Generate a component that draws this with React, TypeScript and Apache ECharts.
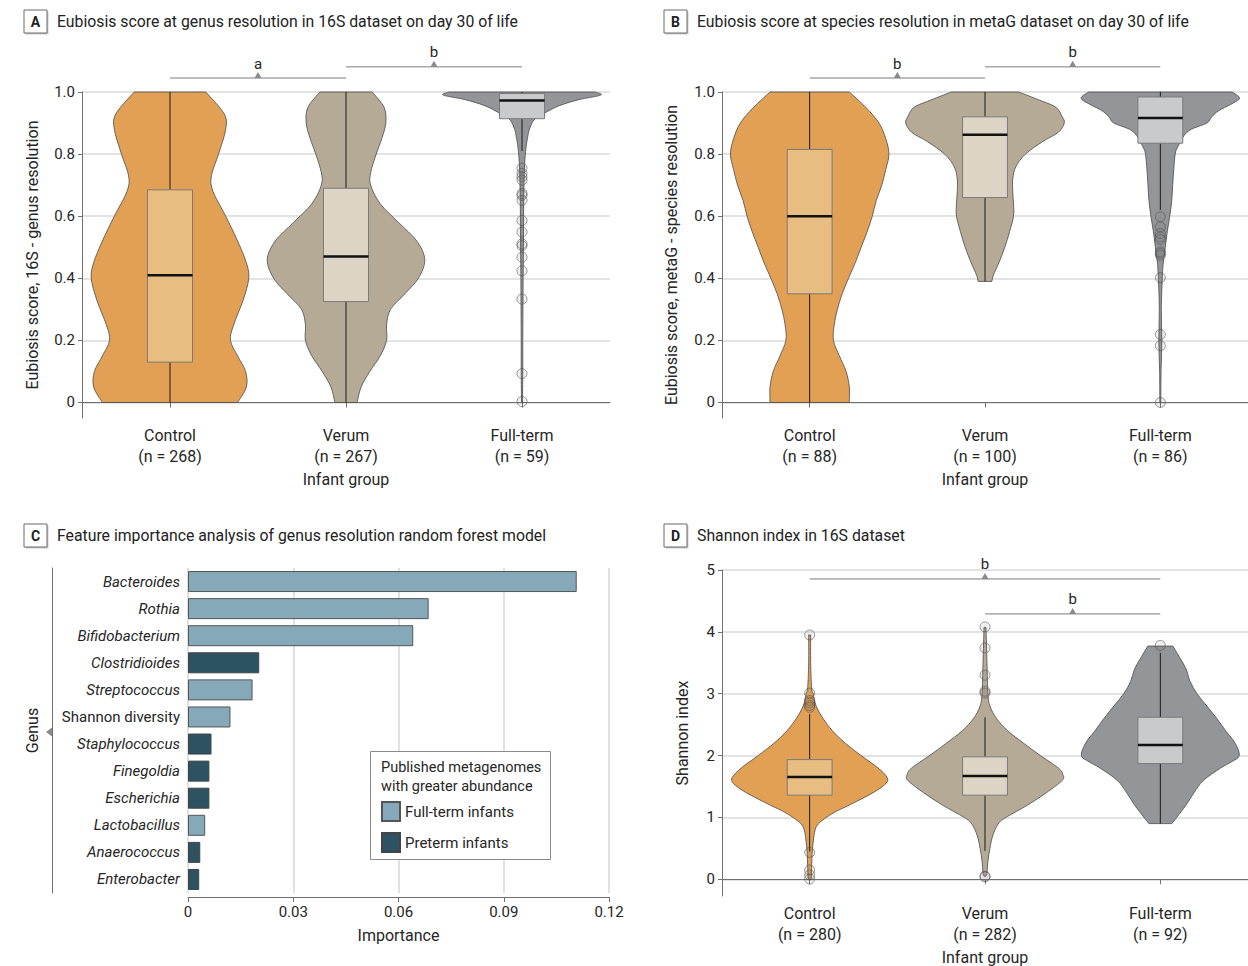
import React, { useEffect, useRef } from "react";
import * as echarts from "echarts";

const FONT = "Roboto, 'Noto Sans', sans-serif";
const TEXT = "#262626";
const AXIS = "#707070";
const GRID = "#dadada";

// ---------- shared categories ----------
const groups = ["Control", "Verum", "Full-term"];
const nA = [268, 267, 59];
const nB = [88, 100, 86];
const nD = [280, 282, 92];
const scoreTicks = [0, 0.2, 0.4, 0.6, 0.8, 1.0];
const shannonTicks = [0, 1, 2, 3, 4, 5];

// ---------- Panel A: violin density profiles [score, relative density] ----------
const violinA_control = [[0, 0.85], [0.05, 0.96], [0.1, 0.95], [0.15, 0.85], [0.2, 0.76], [0.25, 0.8], [0.33, 0.92], [0.4, 0.99], [0.45, 0.96], [0.52, 0.85], [0.6, 0.7], [0.68, 0.54], [0.73, 0.52], [0.8, 0.61], [0.88, 0.7], [0.93, 0.68], [1.0, 0.45]];
const violinA_verum = [[0, 0.14], [0.05, 0.19], [0.1, 0.3], [0.15, 0.43], [0.2, 0.51], [0.25, 0.51], [0.3, 0.56], [0.35, 0.74], [0.4, 0.91], [0.46, 0.99], [0.52, 0.89], [0.58, 0.66], [0.64, 0.43], [0.7, 0.31], [0.74, 0.31], [0.8, 0.38], [0.85, 0.45], [0.9, 0.5], [0.95, 0.48], [1.0, 0.33]];
const violinA_fullterm = [[0, 0.006], [0.1, 0.01], [0.2, 0.01], [0.3, 0.012], [0.4, 0.014], [0.5, 0.018], [0.6, 0.02], [0.7, 0.025], [0.77, 0.034], [0.82, 0.05], [0.86, 0.075], [0.88, 0.094], [0.91, 0.15], [0.93, 0.27], [0.955, 0.46], [0.975, 0.71], [0.99, 0.99], [1.0, 0.92]];
// box stats: [lower whisker, Q1, median, Q3, upper whisker]
const boxA = [[0, 0.13, 0.41, 0.685, 1.0], [0, 0.325, 0.47, 0.69, 1.0], [0.81, 0.914, 0.973, 0.995, 1.0]];
const outliersA_fullterm = [0.755, 0.738, 0.727, 0.716, 0.673, 0.667, 0.651, 0.586, 0.549, 0.511, 0.505, 0.468, 0.424, 0.333, 0.093, 0.003];
const bracketsA_from = [0, 1];
const bracketsA_to = [1, 2];
const bracketsA_y = [1.045, 1.081];
const bracketsA_label = ["a", "b"];

// ---------- Panel B ----------
const violinB_control = [[0, 0.5], [0.05, 0.5], [0.1, 0.46], [0.15, 0.375], [0.2, 0.3], [0.25, 0.31], [0.3, 0.35], [0.35, 0.41], [0.4, 0.49], [0.45, 0.575], [0.5, 0.65], [0.55, 0.725], [0.6, 0.79], [0.65, 0.84], [0.7, 0.91], [0.75, 0.96], [0.8, 1.0], [0.85, 0.96], [0.9, 0.875], [0.95, 0.71], [1.0, 0.5]];
const violinB_verum = [[0.39, 0.0875], [0.41, 0.106], [0.45, 0.175], [0.5, 0.25], [0.55, 0.31], [0.6, 0.36], [0.64, 0.36], [0.68, 0.35], [0.72, 0.35], [0.76, 0.39], [0.8, 0.51], [0.84, 0.725], [0.87, 0.925], [0.9, 1.0], [0.92, 0.975], [0.95, 0.9], [0.97, 0.725], [1.0, 0.425]];
const violinB_fullterm = [[0, 0.006], [0.1, 0.009], [0.2, 0.019], [0.3, 0.0125], [0.4, 0.025], [0.45, 0.0375], [0.5, 0.0625], [0.55, 0.0875], [0.6, 0.119], [0.65, 0.144], [0.7, 0.156], [0.75, 0.169], [0.8, 0.1875], [0.82, 0.2125], [0.84, 0.256], [0.86, 0.3], [0.88, 0.39], [0.9, 0.5875], [0.92, 0.65], [0.94, 0.7375], [0.96, 0.8875], [0.98, 1.0], [1.0, 0.906]];
const boxB = [[0, 0.35, 0.6, 0.815, 1.0], [0.39, 0.66, 0.862, 0.92, 1.0], [0.62, 0.835, 0.916, 0.984, 1.0]];
const outliersB_fullterm = [0.598, 0.566, 0.544, 0.533, 0.525, 0.485, 0.48, 0.474, 0.402, 0.219, 0.183, 0.0];
const bracketsB_from = [0, 1];
const bracketsB_to = [1, 2];
const bracketsB_y = [1.045, 1.081];
const bracketsB_label = ["b", "b"];

// ---------- Panel C: feature importance ----------
const genera = ["Bacteroides", "Rothia", "Bifidobacterium", "Clostridioides", "Streptococcus", "Shannon diversity", "Staphylococcus", "Finegoldia", "Escherichia", "Lactobacillus", "Anaerococcus", "Enterobacter"];
const importance = [0.1108, 0.0686, 0.0642, 0.0203, 0.0184, 0.0121, 0.0067, 0.0061, 0.0061, 0.0049, 0.0035, 0.0032];
const enrichedIn = ["Full-term", "Full-term", "Full-term", "Preterm", "Full-term", "Full-term", "Preterm", "Preterm", "Preterm", "Full-term", "Preterm", "Preterm"];
const importanceTicks = { min: 0, max: 0.12, interval: 0.03 };

// ---------- Panel D: Shannon index ----------
const violinD_control = [[0, 0.02], [0.2, 0.025], [0.4, 0.03], [0.6, 0.044], [0.8, 0.069], [0.9, 0.1125], [1.0, 0.21], [1.1, 0.3375], [1.2, 0.5], [1.4, 0.8], [1.55, 0.9625], [1.65, 0.975], [1.8, 0.8625], [2.0, 0.65], [2.2, 0.45], [2.4, 0.2875], [2.6, 0.169], [2.8, 0.0825], [3.0, 0.044], [3.1, 0.025], [3.5, 0.0125], [3.95, 0.0125]];
const violinD_verum = [[0.05, 0.0125], [0.1, 0.025], [0.3, 0.0375], [0.5, 0.0625], [0.7, 0.096], [0.9, 0.169], [1.0, 0.2625], [1.2, 0.5375], [1.4, 0.775], [1.6, 0.975], [1.7, 0.98], [1.8, 0.925], [2.0, 0.7], [2.2, 0.4875], [2.4, 0.2875], [2.6, 0.145], [2.8, 0.0625], [3.0, 0.0375], [3.5, 0.025], [4.07, 0.0125]];
const violinD_fullterm = [[0.9, 0.145], [1.0, 0.206], [1.2, 0.325], [1.4, 0.425], [1.6, 0.545], [1.8, 0.7625], [1.9, 0.9], [2.0, 0.996], [2.2, 0.944], [2.4, 0.825], [2.6, 0.7125], [2.8, 0.5875], [3.0, 0.4625], [3.2, 0.375], [3.4, 0.325], [3.6, 0.2375], [3.77, 0.1575]];
const boxD = [[0.45, 1.36, 1.655, 1.935, 2.67], [0.46, 1.36, 1.67, 1.98, 2.62], [0.9, 1.87, 2.17, 2.62, 3.66]];
const outliersD_control = [3.95, 3.01, 2.89, 2.85, 2.81, 2.78, 0.435, 0.15, 0.07, 0.005];
const outliersD_verum = [4.08, 3.74, 3.3, 3.04, 3.01, 0.05, 0.04];
const outliersD_fullterm = [3.78];
const bracketsD_from = [0, 1];
const bracketsD_to = [2, 2];
const bracketsD_y = [4.855, 4.29];
const bracketsD_label = ["b", "b"];

// ---------- styling ----------
const violinColors = ["#e2a054", "#b5aa96", "#949598"];
const boxColors = ["#e8bd81", "#dcd4c4", "#c9cacc"];
const barColors: Record<string, string> = { "Full-term": "#85a9b8", Preterm: "#2d5261" };

function spline(pts: number[][]): string {
  let s = "";
  for (let i = 0; i < pts.length - 1; i++) {
    const p0 = pts[i - 1] || pts[i];
    const p1 = pts[i];
    const p2 = pts[i + 1];
    const p3 = pts[i + 2] || p2;
    const c1x = p1[0] + (p2[0] - p0[0]) / 6;
    const c1y = p1[1] + (p2[1] - p0[1]) / 6;
    const c2x = p2[0] - (p3[0] - p1[0]) / 6;
    const c2y = p2[1] - (p3[1] - p1[1]) / 6;
    s += `C${c1x.toFixed(2)},${c1y.toFixed(2)},${c2x.toFixed(2)},${c2y.toFixed(2)},${p2[0].toFixed(2)},${p2[1].toFixed(2)}`;
  }
  return s;
}

function violinRenderer(profiles: number[][][], boxes: number[][]) {
  return (params: any, api: any) => {
    const i = api.value(0);
    const prof = profiles[i];
    const band = api.size([1, 0])[0];
    const half = band * 0.452;
    const cx = api.coord([i, 0])[0];
    const yOf = (v: number) => api.coord([i, v])[1];
    const right = prof.map(([v, d]) => [cx + d * half, yOf(v)]);
    const left = prof
      .slice()
      .reverse()
      .map(([v, d]) => [cx - d * half, yOf(v)]);
    const path =
      `M${right[0][0].toFixed(2)},${right[0][1].toFixed(2)}` +
      spline(right) +
      `L${left[0][0].toFixed(2)},${left[0][1].toFixed(2)}` +
      spline(left) +
      "Z";
    const b = boxes[i];
    const bw = band * 0.128;
    const yLo = yOf(b[0]);
    const yQ1 = yOf(b[1]);
    const yMed = yOf(b[2]);
    const yQ3 = yOf(b[3]);
    const yHi = yOf(b[4]);
    return {
      type: "group",
      children: [
        { type: "path", shape: { pathData: path }, style: { fill: violinColors[i], stroke: "#4a4a4a", lineWidth: 0.8 } },
        { type: "line", shape: { x1: cx, y1: yLo, x2: cx, y2: yQ1 }, style: { stroke: "#1a1a1a", lineWidth: 1 } },
        { type: "line", shape: { x1: cx, y1: yQ3, x2: cx, y2: yHi }, style: { stroke: "#1a1a1a", lineWidth: 1 } },
        { type: "rect", shape: { x: cx - bw, y: yQ3, width: 2 * bw, height: yQ1 - yQ3 }, style: { fill: boxColors[i], stroke: "#7a7a7a", lineWidth: 1 } },
        { type: "line", shape: { x1: cx - bw, y1: yMed, x2: cx + bw, y2: yMed }, style: { stroke: "#111", lineWidth: 2.5 } },
      ],
    };
  };
}

function bracketRenderer(labels: string[]) {
  return (params: any, api: any) => {
    const y = api.value(2);
    const p1 = api.coord([api.value(0), y]);
    const p2 = api.coord([api.value(1), y]);
    const mx = (p1[0] + p2[0]) / 2;
    const py = p1[1];
    return {
      type: "group",
      children: [
        { type: "line", shape: { x1: p1[0], y1: py, x2: p2[0], y2: py }, style: { stroke: "#7c7c7c", lineWidth: 1 } },
        { type: "polygon", shape: { points: [[mx - 3.5, py], [mx + 3.5, py], [mx, py - 6]] }, style: { fill: "#8a8a8a" } },
        { type: "text", x: mx, y: py - 7, style: { text: labels[params.dataIndex], fontSize: 15, fontFamily: FONT, fill: TEXT, align: "center", verticalAlign: "bottom" } },
      ],
    };
  };
}

const catX = (gridIndex: number, ns: number[]) => ({
  type: "category",
  gridIndex,
  data: groups,
  axisLine: { show: true, lineStyle: { color: AXIS, width: 1 } },
  axisTick: { show: true, alignWithLabel: true, length: 5, lineStyle: { color: AXIS } },
  axisLabel: {
    margin: 7,
    fontSize: 16,
    lineHeight: 21,
    color: TEXT,
    fontFamily: FONT,
    formatter: (v: string, i: number) => `${v}\n(n = ${ns[i]})`,
  },
  splitLine: { show: false },
  name: "Infant group",
  nameLocation: "middle",
  nameGap: 53,
  nameTextStyle: { fontSize: 16, color: TEXT, fontFamily: FONT },
});

const valY = (gridIndex: number, name: string, min: number, max: number, ticks: number[], fmt: (v: number) => string, nameGap: number) => ({
  type: "value",
  gridIndex,
  min,
  max,
  axisLine: { show: true, lineStyle: { color: AXIS, width: 1 } },
  axisTick: { show: true, length: 4, customValues: ticks, lineStyle: { color: AXIS } },
  axisLabel: { customValues: ticks, margin: 7, fontSize: 15, color: TEXT, fontFamily: FONT, formatter: fmt },
  splitLine: { show: true, lineStyle: { color: GRID, width: 1.6 } },
  name,
  nameLocation: "middle",
  nameGap,
  nameTextStyle: { fontSize: 16, color: TEXT, fontFamily: FONT },
});

function titleEls(x: number, y: number, letter: string, title: string) {
  return [
    { type: "rect", shape: { x: x + 1.5, y: y + 1.5, width: 23, height: 23 }, style: { fill: "#c8c8c8" } },
    { type: "rect", shape: { x, y, width: 23, height: 23 }, style: { fill: "#fff", stroke: "#6a6a6a", lineWidth: 1 } },
    { type: "text", x: x + 11.5, y: y + 12, style: { text: letter, fontSize: 14, fontWeight: "bold", fontFamily: FONT, fill: "#222", align: "center", verticalAlign: "middle" } },
    { type: "text", x: x + 33, y: y + 11.5, style: { text: title, fontSize: 15.8, fontFamily: FONT, fill: "#222", align: "left", verticalAlign: "middle" } },
  ];
}

const scoreFmt = (v: number) => (v === 0 ? "0" : v.toFixed(1));
const intFmt = (v: number) => String(v);

export default function App() {
  const ref = useRef<HTMLDivElement>(null);
  useEffect(() => {
    if (!ref.current) return;
    const chart = echarts.init(ref.current, null, { renderer: "svg" });

    const outlierStyle = { color: "rgba(110,110,110,0.12)", borderColor: "rgba(80,80,80,0.7)", borderWidth: 1 };
    const scatter = (xi: number, yi: number, pts: number[][]) => ({
      type: "scatter",
      xAxisIndex: xi,
      yAxisIndex: yi,
      data: pts,
      symbol: "circle",
      symbolSize: 10,
      itemStyle: outlierStyle,
      z: 4,
      silent: true,
    });
    const violin = (xi: number, yi: number, profiles: number[][][], boxes: number[][]) => ({
      type: "custom",
      xAxisIndex: xi,
      yAxisIndex: yi,
      data: groups.map((_, i) => [i, 0]),
      encode: { x: 0, y: 1 },
      renderItem: violinRenderer(profiles, boxes),
      z: 2,
      silent: true,
    });
    const brackets = (xi: number, yi: number, from: number[], to: number[], ys: number[], labels: string[]) => ({
      type: "custom",
      xAxisIndex: xi,
      yAxisIndex: yi,
      data: from.map((f, k) => [f, to[k], ys[k]]),
      encode: { x: 0, y: 2 },
      renderItem: bracketRenderer(labels),
      clip: false,
      z: 5,
      silent: true,
    });

    const option: any = {
      animation: false,
      backgroundColor: "#fff",
      textStyle: { fontFamily: FONT },
      grid: [
        { left: 82, top: 92, width: 528, height: 326 },
        { left: 722, top: 92, width: 531, height: 326 },
        { left: 188, top: 568, width: 421, height: 325 },
        { left: 722, top: 570, width: 531, height: 327 },
      ],
      xAxis: [
        catX(0, nA),
        catX(1, nB),
        {
          type: "value",
          gridIndex: 2,
          min: importanceTicks.min,
          max: importanceTicks.max,
          interval: importanceTicks.interval,
          offset: 4,
          axisLine: { show: true, lineStyle: { color: AXIS } },
          axisTick: { show: true, length: 5, lineStyle: { color: AXIS } },
          axisLabel: { margin: 7, fontSize: 15, color: TEXT, fontFamily: FONT, formatter: (v: number) => (v === 0 ? "0" : v.toFixed(2)) },
          splitLine: { show: true, lineStyle: { color: GRID, width: 1.6 } },
          name: "Importance",
          nameLocation: "middle",
          nameGap: 30,
          nameTextStyle: { fontSize: 16, color: TEXT, fontFamily: FONT },
        },
        catX(3, nD),
      ],
      yAxis: [
        valY(0, "Eubiosis score, 16S - genus resolution", -0.05, 1, scoreTicks, scoreFmt, 42),
        valY(1, "Eubiosis score, metaG - species resolution", -0.05, 1, scoreTicks, scoreFmt, 43),
        {
          type: "category",
          gridIndex: 2,
          position: "left",
          inverse: true,
          data: genera,
          axisLine: { show: false },
          axisTick: { show: false },
          axisLabel: {
            margin: 8,
            color: TEXT,
            fontFamily: FONT,
            fontSize: 15,
            formatter: (v: string) => (v === "Shannon diversity" ? `{n|${v}}` : `{i|${v}}`),
            rich: {
              i: { fontStyle: "italic", fontSize: 15, color: TEXT, fontFamily: FONT },
              n: { fontSize: 15, color: TEXT, fontFamily: FONT },
            },
          },
          splitLine: { show: false },
        },
        {
          type: "category",
          gridIndex: 2,
          position: "left",
          inverse: true,
          data: genera,
          offset: 136,
          axisLine: { show: true, lineStyle: { color: AXIS } },
          axisTick: { show: false },
          axisLabel: { show: false },
          splitLine: { show: false },
          name: "Genus",
          nameLocation: "middle",
          nameGap: 12,
          nameTextStyle: { fontSize: 16, color: TEXT, fontFamily: FONT },
        },
        valY(3, "Shannon index", -0.27, 5, shannonTicks, intFmt, 32),
      ],
      legend: {
        left: 381,
        top: 801,
        orient: "vertical",
        itemWidth: 18,
        itemHeight: 19,
        itemGap: 10,
        padding: 0,
        icon: "rect",
        z: 12,
        data: ["Full-term infants", "Preterm infants"],
        textStyle: { fontSize: 15, color: TEXT, fontFamily: FONT },
        selectedMode: false,
      },
      graphic: {
        elements: [
          ...titleEls(24, 10, "A", "Eubiosis score at genus resolution in 16S dataset on day 30 of life"),
          ...titleEls(664, 10, "B", "Eubiosis score at species resolution in metaG dataset on day 30 of life"),
          ...titleEls(24, 524, "C", "Feature importance analysis of genus resolution random forest model"),
          ...titleEls(664, 524, "D", "Shannon index in 16S dataset"),
          { type: "rect", z: 1, shape: { x: 370.5, y: 751.5, width: 180, height: 108 }, style: { fill: "#fff", stroke: "#8a8a8a", lineWidth: 1 } },
          { type: "text", z: 2, x: 381, y: 767, style: { text: "Published metagenomes", fontSize: 14.5, fontFamily: FONT, fill: TEXT, verticalAlign: "middle" } },
          { type: "text", z: 2, x: 381, y: 786, style: { text: "with greater abundance", fontSize: 14.5, fontFamily: FONT, fill: TEXT, verticalAlign: "middle" } },
          { type: "polygon", shape: { points: [[46, 732], [52, 727.5], [52, 736.5]] }, style: { fill: "#8a8a8a" } },
        ],
      },
      series: [
        violin(0, 0, [violinA_control, violinA_verum, violinA_fullterm], boxA),
        scatter(0, 0, outliersA_fullterm.map((v) => [2, v])),
        brackets(0, 0, bracketsA_from, bracketsA_to, bracketsA_y, bracketsA_label),

        violin(1, 1, [violinB_control, violinB_verum, violinB_fullterm], boxB),
        scatter(1, 1, outliersB_fullterm.map((v) => [2, v])),
        brackets(1, 1, bracketsB_from, bracketsB_to, bracketsB_y, bracketsB_label),

        {
          type: "bar",
          name: "Full-term infants",
          xAxisIndex: 2,
          yAxisIndex: 2,
          barWidth: 21,
          barGap: "-100%",
          data: importance.map((v, k) => (enrichedIn[k] === "Full-term" ? v : null)),
          itemStyle: { color: barColors["Full-term"], borderColor: "#555", borderWidth: 1 },
          z: 3,
          silent: true,
        },
        {
          type: "bar",
          name: "Preterm infants",
          xAxisIndex: 2,
          yAxisIndex: 2,
          barWidth: 21,
          barGap: "-100%",
          data: importance.map((v, k) => (enrichedIn[k] === "Preterm" ? v : null)),
          itemStyle: { color: barColors.Preterm, borderColor: "#444", borderWidth: 1 },
          z: 3,
          silent: true,
        },

        violin(3, 4, [violinD_control, violinD_verum, violinD_fullterm], boxD),
        scatter(3, 4, [
          ...outliersD_control.map((v) => [0, v]),
          ...outliersD_verum.map((v) => [1, v]),
          ...outliersD_fullterm.map((v) => [2, v]),
        ]),
        brackets(3, 4, bracketsD_from, bracketsD_to, bracketsD_y, bracketsD_label),
      ],
    };
    chart.setOption(option);
    return () => chart.dispose();
  }, []);
  return <div ref={ref} style={{ position: "absolute", left: 0, top: 0, width: 1248, height: 966 }} />;
}
